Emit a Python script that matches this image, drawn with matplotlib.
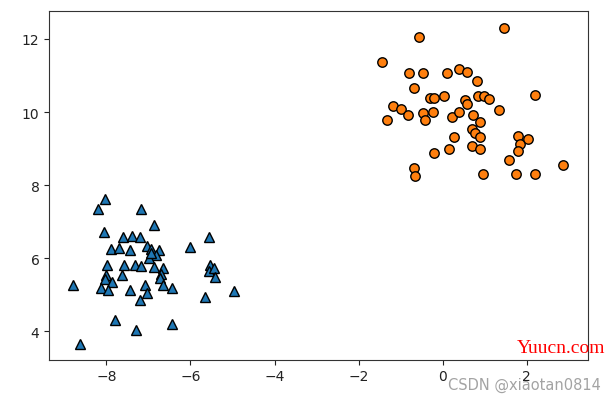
import matplotlib
matplotlib.use("Agg")
import matplotlib.pyplot as plt

# Class 0 (triangles)
x0 = [-8.04, -8.21, -7.18, -6.87, -8.05, -7.61, -7.39, -7.21, -7.04, -7.88,
      -7.69, -7.43, -6.93, -6.76, -6.82, -6.99, -7.98, -7.59, -7.31, -7.18,
      -6.88, -6.65, -6.70, -6.72, -7.63, -8.00, -8.04, -7.86, -8.13, -7.97,
      -8.79, -7.44, -7.08, -7.04, -7.21, -6.65, -6.44, -6.00, -5.57, -5.53,
      -5.57, -5.45, -5.42, -5.66, -4.97, -7.80, -7.30, -6.45, -8.63, -6.95]
y0 = [7.62, 7.35, 7.35, 6.92, 6.71, 6.58, 6.60, 6.58, 6.35, 6.26,
      6.28, 6.24, 6.26, 6.24, 6.09, 6.00, 5.83, 5.83, 5.83, 5.78,
      5.76, 5.73, 5.58, 5.47, 5.55, 5.55, 5.44, 5.35, 5.18, 5.12,
      5.28, 5.14, 5.27, 5.05, 4.85, 5.27, 5.18, 6.32, 6.59, 5.83,
      5.65, 5.74, 5.50, 4.94, 5.10, 4.32, 4.05, 4.19, 3.65, 6.15]

# Class 1 (circles)
x1 = [1.45, -0.56, -1.45, -0.80, -0.46, 0.11, 0.38, 0.58, 0.81, -0.69,
      -0.31, -0.20, 0.04, 0.54, 0.58, 0.84, 0.99, 1.11, 2.20, -1.19,
      -0.98, -1.33, -0.83, -0.46, -0.42, -0.23, 0.23, 0.38, 0.73, 1.34,
      0.88, 0.69, 0.77, 0.27, 0.88, 0.69, 0.90, 0.15, -0.20, -0.69,
      -0.66, 0.96, 1.58, 1.79, 1.84, 1.79, 2.03, 1.75, 2.20, 2.86]
y1 = [12.31, 12.06, 11.36, 11.06, 11.06, 11.06, 11.17, 11.10, 10.84, 10.66,
      10.39, 10.39, 10.44, 10.34, 10.22, 10.44, 10.44, 10.35, 10.47, 10.17,
      10.08, 9.78, 9.92, 9.96, 9.78, 10.00, 9.87, 10.01, 9.92, 10.05,
      9.74, 9.53, 9.42, 9.31, 9.31, 9.08, 8.99, 8.99, 8.88, 8.48,
      8.26, 8.30, 8.69, 9.35, 9.12, 8.94, 9.25, 8.30, 8.30, 8.56]

fig = plt.figure(figsize=(6.16, 4.02), dpi=100)
ax = fig.add_axes([0.080, 0.103, 0.874, 0.866])

ax.plot(x0, y0, linestyle="none", marker="^", markersize=6.6,
        markerfacecolor="#1f77b4", markeredgecolor="black", markeredgewidth=1)
ax.plot(x1, y1, linestyle="none", marker="o", markersize=6.8,
        markerfacecolor="#ff7f0e", markeredgecolor="black", markeredgewidth=1)

ax.set_xlim(-9.36, 3.45)
ax.set_ylim(3.23, 12.75)
ax.set_xticks([-8, -6, -4, -2, 0, 2])
ax.set_yticks([4, 6, 8, 10, 12])
ax.tick_params(labelsize=10, colors="#222222")
for s in ax.spines.values():
    s.set_color("#333333")

fig.text(0.982, 0.133, "Yuucn.com", color="red", fontsize=14,
         family="Liberation Serif", ha="right", va="center")
fig.text(0.975, 0.042, "CSDN @xiaotan0814", color="#999999", fontsize=10.5,
         ha="right", va="center", alpha=0.9)

fig.savefig("out.png", dpi=100)
